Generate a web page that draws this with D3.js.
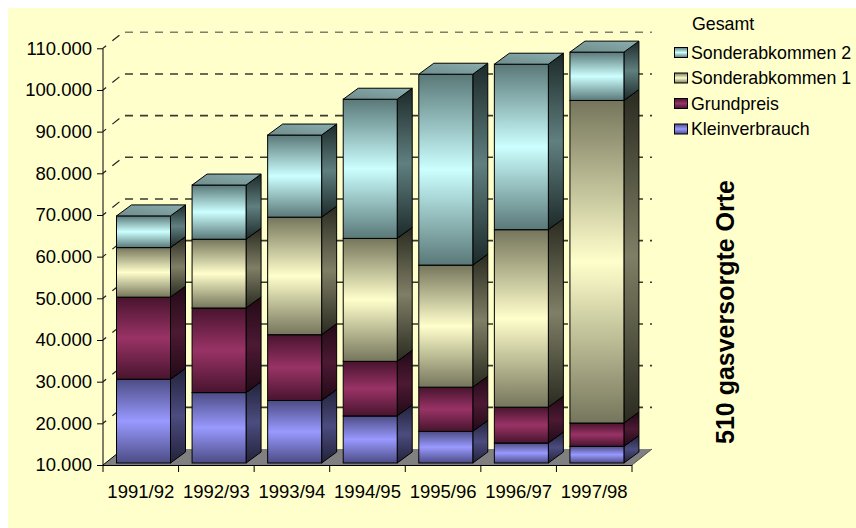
<!DOCTYPE html>
<html><head><meta charset="utf-8">
<script src="https://cdn.jsdelivr.net/npm/d3@7"></script>
<style>
html,body{margin:0;padding:0;background:#fff;}
svg{display:block;}
text{font-family:"Liberation Sans",Arial,sans-serif;fill:#000;}
</style></head>
<body>
<svg id="chart" width="856" height="528"></svg>
<script>
// ---- data ----
const categories = ["1991/92","1992/93","1993/94","1994/95","1995/96","1996/97","1997/98"];
const kleinverbrauch = [30100, 26900, 25000, 21300, 17600, 14800, 14000];
const grundpreis     = [19700, 20300, 15800, 13100, 10600,  8600,  5600];
const sonderabkommen1= [11900, 16500, 28200, 29500, 29300, 42600, 77400];
const sonderabkommen2= [ 7600, 13000, 19700, 33400, 45800, 39700, 11600];
const seriesNames = ["Kleinverbrauch","Grundpreis","Sonderabkommen 1","Sonderabkommen 2"];
const yTicks = [10000,20000,30000,40000,50000,60000,70000,80000,90000,100000,110000];
const legendTitle = "Gesamt";
const sideTitle = "510 gasversorgte Orte";

// ---- styles ----
const colors = {
  "Kleinverbrauch":   {light:"#9999ff", dark:"#4c4c85", sideL:"#4c4c80", sideD:"#22223a", top:"#7070b8"},
  "Grundpreis":       {light:"#993366", dark:"#48142e", sideL:"#4c1933", sideD:"#220a16", top:"#702448"},
  "Sonderabkommen 1": {light:"#ffffcc", dark:"#75755c", sideL:"#7f7f66", sideD:"#2a2a20", top:"#b5b592"},
  "Sonderabkommen 2": {light:"#ccffff", dark:"#5a7878", sideL:"#607f7f", sideD:"#1c2929", top:"#7c9c9c"}
};

const svg = d3.select("#chart");
svg.append("rect").attr("x",8).attr("y",8).attr("width",848).attr("height",520).attr("fill","#ffffcc");

const defs = svg.append("defs");
seriesNames.forEach((s,i)=>{
  const c = colors[s];
  const g = defs.append("linearGradient").attr("id","f"+i).attr("x1",0).attr("y1",0).attr("x2",0).attr("y2",1);
  g.append("stop").attr("offset","0").attr("stop-color",c.dark);
  g.append("stop").attr("offset","0.5").attr("stop-color",c.light);
  g.append("stop").attr("offset","1").attr("stop-color",c.dark);
  const gs = defs.append("linearGradient").attr("id","s"+i).attr("x1",0).attr("y1",0).attr("x2",0).attr("y2",1);
  gs.append("stop").attr("offset","0").attr("stop-color",c.sideD);
  gs.append("stop").attr("offset","0.5").attr("stop-color",c.sideL);
  gs.append("stop").attr("offset","1").attr("stop-color",c.sideD);
  const gt = defs.append("linearGradient").attr("id","t"+i).attr("x1",0).attr("y1",1).attr("x2",1).attr("y2",0);
  gt.append("stop").attr("offset","0").attr("stop-color",d3.color(c.top).darker(0.3));
  gt.append("stop").attr("offset","1").attr("stop-color",d3.color(c.top).brighter(0.3));
});

// ---- scales ----
const x = d3.scaleBand().domain(categories).range([103, 632]).paddingInner(0).paddingOuter(0);
const y = d3.scaleLinear().domain([10000,110000]).range([465, 48.3]).clamp(true);
const floorDx = 20, floorDy = -16;
const barDx = 15, barDy = -11;
const barOffX = 13.5, barOffY = -2, barW = 54;

const locale = d3.formatLocale({decimal:",", thousands:".", grouping:[3], currency:["","€"]});
const fmt = locale.format(",");

// ---- back wall gridlines ----
const grid = svg.append("g");
yTicks.slice(1).forEach((v,i,arr)=>{
  const yy = y(v);
  const top = (i===arr.length-1);
  grid.append("line")
    .attr("x1",103+floorDx+2).attr("x2",632+floorDx).attr("y1",yy+floorDy).attr("y2",yy+floorDy)
    .attr("stroke", top ? "#7f7f70" : "#3a3a30").attr("stroke-width",1.6)
    .attr("stroke-dasharray","8,7");
  grid.append("line")
    .attr("x1",103).attr("y1",yy).attr("x2",103+floorDx).attr("y2",yy+floorDy)
    .attr("stroke", "#222").attr("stroke-width",1.2)
    .attr("stroke-dasharray","9,8").attr("stroke-dashoffset",5);
});

// ---- floor ----
const fl = [[103,465],[632,465],[632+floorDx,465+floorDy],[103+floorDx,465+floorDy]];
svg.append("polygon").attr("points",fl.map(p=>p.join(",")).join(" ")).attr("fill","#808080");
svg.append("line").attr("x1",103).attr("y1",465).attr("x2",103+floorDx).attr("y2",465+floorDy)
  .attr("stroke","#000").attr("stroke-width",1);
svg.append("line").attr("x1",632).attr("y1",465).attr("x2",632+floorDx).attr("y2",465+floorDy)
  .attr("stroke","#555").attr("stroke-width",1);

// ---- bars ----
const seriesData = [kleinverbrauch, grundpreis, sonderabkommen1, sonderabkommen2];
const stack = d3.stack().keys(d3.range(seriesData.length))
  .value((d,k)=>seriesData[k][d])(d3.range(categories.length));

const barsG = svg.append("g");
categories.forEach((cat,ci)=>{
  const x0 = x(cat)+barOffX, x1 = x0+barW;
  stack.forEach((layer,si)=>{
    const d = layer[ci];
    const yb = y(d[0])+barOffY, yt = y(d[1])+barOffY;
    if (yb - yt <= 0) return;
    const g = barsG.append("g");
    g.append("polygon").attr("points",[[x1,yb],[x1+barDx,yb+barDy],[x1+barDx,yt+barDy],[x1,yt]].map(p=>p.join(",")).join(" "))
      .attr("fill","url(#s"+si+")").attr("stroke","#000").attr("stroke-width",1).attr("stroke-linejoin","round");
    g.append("rect").attr("x",x0).attr("y",yt).attr("width",barW).attr("height",yb-yt)
      .attr("fill","url(#f"+si+")").attr("stroke","#000").attr("stroke-width",1);
    g.append("polygon").attr("points",[[x0,yt],[x1,yt],[x1+barDx,yt+barDy],[x0+barDx,yt+barDy]].map(p=>p.join(",")).join(" "))
      .attr("fill","url(#t"+si+")").attr("stroke","#000").attr("stroke-width",1).attr("stroke-linejoin","round");
  });
});

// ---- floor front edge + axes ----
svg.append("line").attr("x1",103).attr("x2",632).attr("y1",465.5).attr("y2",465.5).attr("stroke","#000").attr("stroke-width",1.2);

const yAxis = d3.axisLeft(y).tickValues(yTicks).tickFormat(fmt).tickSize(6).tickPadding(5);
const ya = svg.append("g").attr("transform","translate(103,0)").call(yAxis);
ya.select(".domain").attr("stroke","#000").attr("d","M0,"+y(110000)+"V465");
ya.selectAll(".tick line").attr("stroke","#000");
ya.selectAll(".tick text").style("font-size","18.5px").style("font-family","'Liberation Sans', Arial, sans-serif").attr("fill","#000");

const xAxis = d3.axisBottom(x).tickSize(0).tickPadding(0);
const xa = svg.append("g").attr("transform","translate(0,465)").call(xAxis);
xa.select(".domain").remove();
xa.selectAll(".tick text").attr("y",32.5).attr("dy",0).style("font-size","18.5px").style("font-family","'Liberation Sans', Arial, sans-serif").attr("fill","#000");
const bounds = categories.map(c=>x(c)).concat([x(categories[categories.length-1])+x.bandwidth()]);
svg.append("g").selectAll("line").data(bounds).join("line")
  .attr("x1",d=>d).attr("x2",d=>d).attr("y1",465).attr("y2",472).attr("stroke","#000").attr("stroke-width",1);

// ---- legend ----
const lg = svg.append("g");
lg.append("text").attr("x",692).attr("y",30).style("font-size","17.8px").text(legendTitle);
const legendOrder = [3,2,1,0];
legendOrder.forEach((si,k)=>{
  const yy = 52.5 + k*25.5;
  lg.append("rect").attr("x",674.5).attr("y",yy-5).attr("width",13).attr("height",10)
    .attr("fill","url(#f"+si+")").attr("stroke","#000").attr("stroke-width",1);
  lg.append("text").attr("x",691).attr("y",yy+6.3).style("font-size","17.8px").text(seriesNames[si]);
});

// ---- side title ----
svg.append("text").attr("transform","translate(734,312) rotate(-90)").attr("text-anchor","middle")
  .style("font-size","25px").style("font-weight","bold").text(sideTitle);
</script>
</body></html>
